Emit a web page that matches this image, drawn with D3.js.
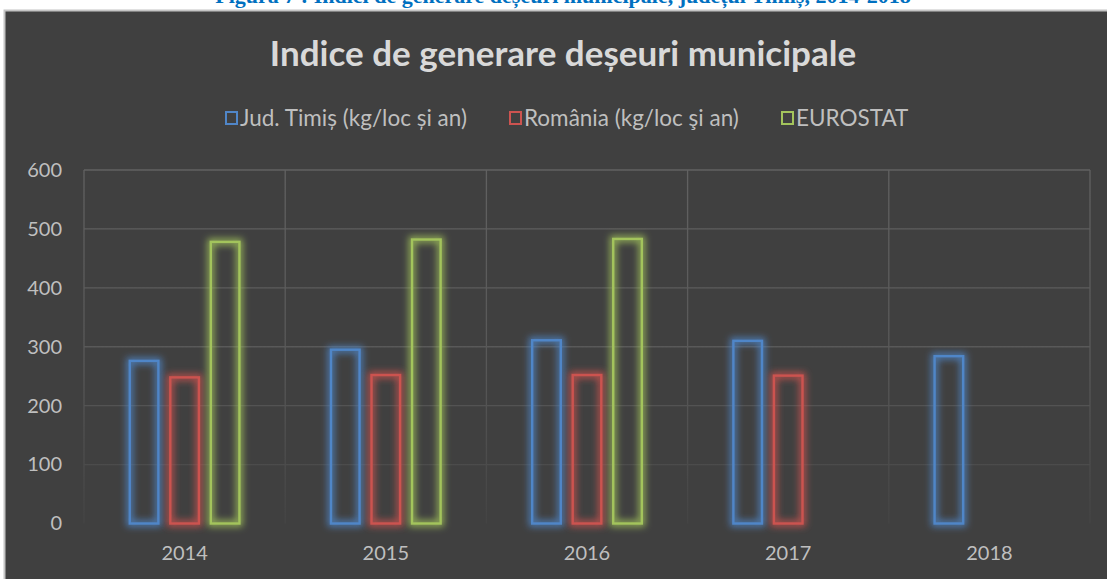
<!DOCTYPE html>
<html>
<head>
<meta charset="utf-8">
<script src="https://cdn.jsdelivr.net/npm/d3@7"></script>
<style>
  body { margin: 0; background: #fff; }
  svg { display: block; }
</style>
</head>
<body>
<svg id="chart"></svg>
<script>
// date
const years = ["2014", "2015", "2016", "2017", "2018"];
const seriesNames = ["Jud. Timiș (kg/loc și an)", "România (kg/loc şi an)", "EUROSTAT"];
const timis = [276, 295, 311, 310, 284];
const romania = [248, 252, 252, 251, null];
const eurostat = [478, 482, 483, null, null];
const yTicks = [0, 100, 200, 300, 400, 500, 600];
const colors = ["#5086c8", "#cc5350", "#a3c45c"];

const width = 1107, height = 579;
const margin = { top: 170, right: 17, bottom: 55.5, left: 84 };

const svg = d3.select("#chart").attr("width", width).attr("height", height);

// caption cut at top
svg.append("text")
  .attr("x", 563).attr("y", 3)
  .attr("text-anchor", "middle")
  .attr("font-family", "Liberation Serif")
  .attr("font-weight", "bold")
  .attr("font-size", 22)
  .attr("fill", "#0070c0")
  .text("Figura 7 : Indici de generare deșeuri municipale, județul Timiș, 2014-2018");

// panel
svg.append("rect")
  .attr("x", 4.5).attr("y", 10.5)
  .attr("width", width).attr("height", height)
  .attr("fill", "#404040")
  .attr("stroke", "#c4c4c4").attr("stroke-width", 2);

const defs = svg.append("defs");
const grad = defs.append("linearGradient")
  .attr("id", "gridFade")
  .attr("gradientUnits", "userSpaceOnUse")
  .attr("x1", 0).attr("y1", margin.top).attr("x2", 0).attr("y2", height - margin.bottom);
grad.append("stop").attr("offset", 0).attr("stop-color", "#616161");
grad.append("stop").attr("offset", 0.55).attr("stop-color", "#585858");
grad.append("stop").attr("offset", 1).attr("stop-color", "#444444");

colors.forEach((c, i) => {
  const f = defs.append("filter").attr("id", "glow" + i)
    .attr("x", "-60%").attr("y", "-20%").attr("width", "220%").attr("height", "140%");
  f.append("feMorphology").attr("in", "SourceGraphic").attr("operator", "dilate").attr("radius", 1.5).attr("result", "d");
  f.append("feGaussianBlur").attr("in", "d").attr("stdDeviation", 3.5).attr("result", "b");
  f.append("feComponentTransfer").attr("in", "b").attr("result", "b2")
    .append("feFuncA").attr("type", "linear").attr("slope", 0.85);
  const m = f.append("feMerge");
  m.append("feMergeNode").attr("in", "b2");
  m.append("feMergeNode").attr("in", "SourceGraphic");
});

// title
svg.append("text")
  .attr("x", 563).attr("y", 66)
  .attr("text-anchor", "middle")
  .attr("font-family", "Lato")
  .attr("font-size", 35)
  .attr("font-weight", "bold")
  .attr("fill", "#d9d9d9")
  .text("Indice de generare deșeuri municipale");

// legend
const legendX = [225, 509, 781];
const legend = svg.append("g").attr("font-family", "Lato").attr("font-size", 22.5).attr("fill", "#bfbfbf");
seriesNames.forEach((name, i) => {
  legend.append("rect")
    .attr("x", legendX[i] + 1).attr("y", 112)
    .attr("width", 11).attr("height", 12)
    .attr("fill", "none").attr("stroke", colors[i]).attr("stroke-width", 2);
  legend.append("text")
    .attr("x", legendX[i] + 15).attr("y", 126)
    .text(name);
});

const x = d3.scaleBand().domain(years).range([margin.left, width - margin.right]).padding(0);
const xs = d3.scaleBand().domain([0, 1, 2]).range([0, x.bandwidth()]).paddingInner(0.235).paddingOuter(1.1);
const y = d3.scaleLinear().domain([0, 600]).range([height - margin.bottom, margin.top]);

// grid
const grid = svg.append("g").attr("stroke", "url(#gridFade)").attr("stroke-width", 1.3);
grid.selectAll(".h").data(yTicks.slice(1)).join("line")
  .attr("x1", margin.left).attr("x2", width - margin.right)
  .attr("y1", d => y(d)).attr("y2", d => y(d));
grid.selectAll(".v").data(years.concat(["end"])).join("line")
  .attr("x1", (d, i) => margin.left + i * x.step())
  .attr("x2", (d, i) => margin.left + i * x.step())
  .attr("y1", y(600)).attr("y2", y(0));

// axes
const yAxis = svg.append("g")
  .attr("transform", `translate(${margin.left},0)`)
  .call(d3.axisLeft(y).tickValues(yTicks).tickSize(0).tickPadding(22));
yAxis.select(".domain").remove();
yAxis.selectAll("text").attr("font-family", "Lato").attr("font-size", 20).attr("fill", "#bfbfbf");

const xAxis = svg.append("g")
  .attr("transform", `translate(0,${height - margin.bottom})`)
  .call(d3.axisBottom(x).tickSize(0).tickPadding(22));
xAxis.select(".domain").remove();
xAxis.selectAll("text").attr("font-family", "Lato").attr("font-size", 20).attr("fill", "#bfbfbf");

// bars
const series = [timis, romania, eurostat];
series.forEach((vals, si) => {
  const data = years.map((yr, i) => ({ yr, v: vals[i] })).filter(d => d.v != null);
  svg.append("g").attr("filter", `url(#glow${si})`)
    .selectAll("rect").data(data).join("rect")
    .attr("x", d => x(d.yr) + xs(si) + 1.2)
    .attr("y", d => y(d.v))
    .attr("width", xs.bandwidth() - 2.4)
    .attr("height", d => y(0) - y(d.v))
    .attr("fill", "none")
    .attr("stroke", colors[si])
    .attr("stroke-width", 2.4);
});
</script>
</body>
</html>
